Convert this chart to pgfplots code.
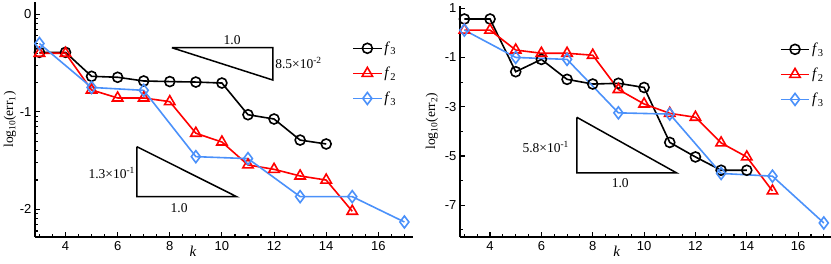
\documentclass[border=0pt]{standalone}
\usepackage{fontspec}
\setmainfont{Liberation Serif}
\setsansfont{Liberation Sans}
\usepackage{pgfplots}
\pgfplotsset{compat=1.18}
\definecolor{myblue}{RGB}{75,145,250}
\definecolor{myred}{RGB}{255,0,0}
\tikzset{lab/.style={font=\fontsize{13.5}{14}\selectfont}}
\pgfplotsset{
  base/.style={
    scale only axis,
    clip=false,
    axis x line=bottom, axis y line=left,
    axis line style={-, line width=1.5pt},
    tick align=inside,
    major tick length=5pt, minor tick length=3pt,
    every tick/.style={black, line width=1.1pt},
    tick label style={font=\sffamily\fontsize{13}{14}\selectfont},
    xtick={4,6,8,10,12,14,16},
    xticklabels={4,6,8,10,12,14,16},
    minor xtick={3,3.5,...,17},
    xticklabel style={yshift=-1pt},
    legend cell align=left,
    legend image code/.code={\draw[mark repeat=2,mark phase=2] plot coordinates {(0cm,0cm) (0.5cm,0cm) (1cm,0cm)};},
    legend style={draw=none, fill=none, anchor=north west, inner sep=0pt,
      font=\fontsize{15}{16}\selectfont, row sep=9pt},
  },
  s1/.style={black, line width=1.6pt, mark=o, mark size=5pt, mark options={solid, fill=white}},
  s2/.style={myred, line width=1.6pt, mark=triangle, mark size=6pt, mark options={solid, fill=white}},
  s3/.style={myblue, line width=1.6pt, mark=diamond, mark size=6pt, mark options={solid, fill=white}},
  tri/.style={black, line width=1.5pt, no marks, forget plot},
}
\begin{document}
\begin{tikzpicture}
\useasboundingbox (0,0) rectangle (831pt,263pt);
\begin{axis}[base,
  at={(35pt,26pt)}, anchor=south west,
  width=378pt, height=235pt,
  xmin=2.83, xmax=17.33, ymin=-2.284, ymax=0.126,
  ytick={0,-1,-2}, yticklabels={0,-1,-2},
  minor ytick={-2.222,-2.155,-2.097,-2.046,
    -1.699,-1.523,-1.398,-1.301,-1.222,-1.155,-1.097,-1.046,
    -0.699,-0.523,-0.398,-0.301,-0.222,-0.155,-0.097,-0.046},
  ylabel={log\textsubscript{10}(err\textsubscript{1})},
  ylabel style={font=\fontsize{13.5}{14}\selectfont, at={(axis description cs:0,0.5)}, anchor=center, yshift=25pt},
  xlabel={\textit{k}},
  xlabel style={font=\fontsize{15}{16}\selectfont, at={(axis description cs:0.418,0)}, anchor=center, yshift=-14pt},
  legend style={at={(axis description cs:0.839,0.838)}},
]
\addplot[s1] coordinates {(3,-0.39) (4,-0.39) (5,-0.636) (6,-0.646) (7,-0.684) (8,-0.69) (9,-0.695) (10,-0.705) (11,-1.03) (12,-1.074) (13,-1.29) (14,-1.33)};
\addlegendentry{\textit{f}\textsubscript{3}}
\addplot[s2] coordinates {(3,-0.40) (4,-0.40) (5,-0.776) (6,-0.858) (7,-0.858) (8,-0.896) (9,-1.22) (10,-1.31) (11,-1.545) (12,-1.59) (13,-1.658) (14,-1.70) (15,-2.02)};
\addlegendentry{\textit{f}\textsubscript{2}}
\addplot[s3] coordinates {(3,-0.30) (5,-0.75) (7,-0.78) (9,-1.46) (11,-1.48) (13,-1.87) (15,-1.87) (17,-2.13)};
\addlegendentry{\textit{f}\textsubscript{3}}
\addplot[tri] coordinates {(8.08,-0.343) (11.95,-0.343) (11.95,-0.674) (8.08,-0.343)};
\addplot[tri] coordinates {(6.74,-1.358) (6.74,-1.871) (10.57,-1.871) (6.74,-1.358)};
\node[lab] at (axis cs:10.39,-0.264) {1.0};
\node[lab, anchor=west, inner sep=0pt] at (axis cs:12.04,-0.50) {8.5×10\textsuperscript{-2}};
\node[lab, anchor=east, inner sep=0pt] at (axis cs:6.67,-1.63) {1.3×10\textsuperscript{-1}};
\node[lab] at (axis cs:8.36,-1.987) {1.0};
\end{axis}
\begin{axis}[base,
  at={(460pt,26pt)}, anchor=south west,
  width=371pt, height=231.3pt,
  xmin=2.83, xmax=17.28, ymin=-8.29, ymax=1.10,
  ytick={1,-1,-3,-5,-7}, yticklabels={1,-1,-3,-5,-7},
  minor ytick={0,-2,-4,-6,-8},
  ylabel={log\textsubscript{10}(err\textsubscript{2})},
  ylabel style={font=\fontsize{13.5}{14}\selectfont, at={(axis description cs:0,0.5)}, anchor=center, yshift=28pt},
  xlabel={\textit{k}},
  xlabel style={font=\fontsize{15}{16}\selectfont, at={(axis description cs:0.423,0)}, anchor=center, yshift=-14pt},
  legend style={at={(axis description cs:0.862,0.847)}},
]
\addplot[s1] coordinates {(3,0.56) (4,0.56) (5,-1.58) (6,-1.08) (7,-1.89) (8,-2.08) (9,-2.05) (10,-2.22) (11,-4.45) (12,-5.04) (13,-5.58) (14,-5.58)};
\addlegendentry{\textit{f}\textsubscript{3}}
\addplot[s2] coordinates {(3,0.11) (4,0.11) (5,-0.70) (6,-0.83) (7,-0.83) (8,-0.91) (9,-2.30) (10,-2.89) (11,-3.27) (12,-3.43) (13,-4.47) (14,-5.04) (15,-6.42)};
\addlegendentry{\textit{f}\textsubscript{2}}
\addplot[s3] coordinates {(3,0.11) (5,-1.0) (7,-1.08) (9,-3.25) (11,-3.30) (13,-5.71) (15,-5.82) (17,-7.72)};
\addlegendentry{\textit{f}\textsubscript{3}}
\addplot[tri] coordinates {(7.38,-3.43) (7.38,-5.69) (11.27,-5.69) (7.38,-3.43)};
\node[lab, anchor=east, inner sep=0pt] at (axis cs:7.08,-4.63) {5.8×10\textsuperscript{-1}};
\node[lab] at (axis cs:9.07,-6.12) {1.0};
\end{axis}
\end{tikzpicture}
\end{document}
